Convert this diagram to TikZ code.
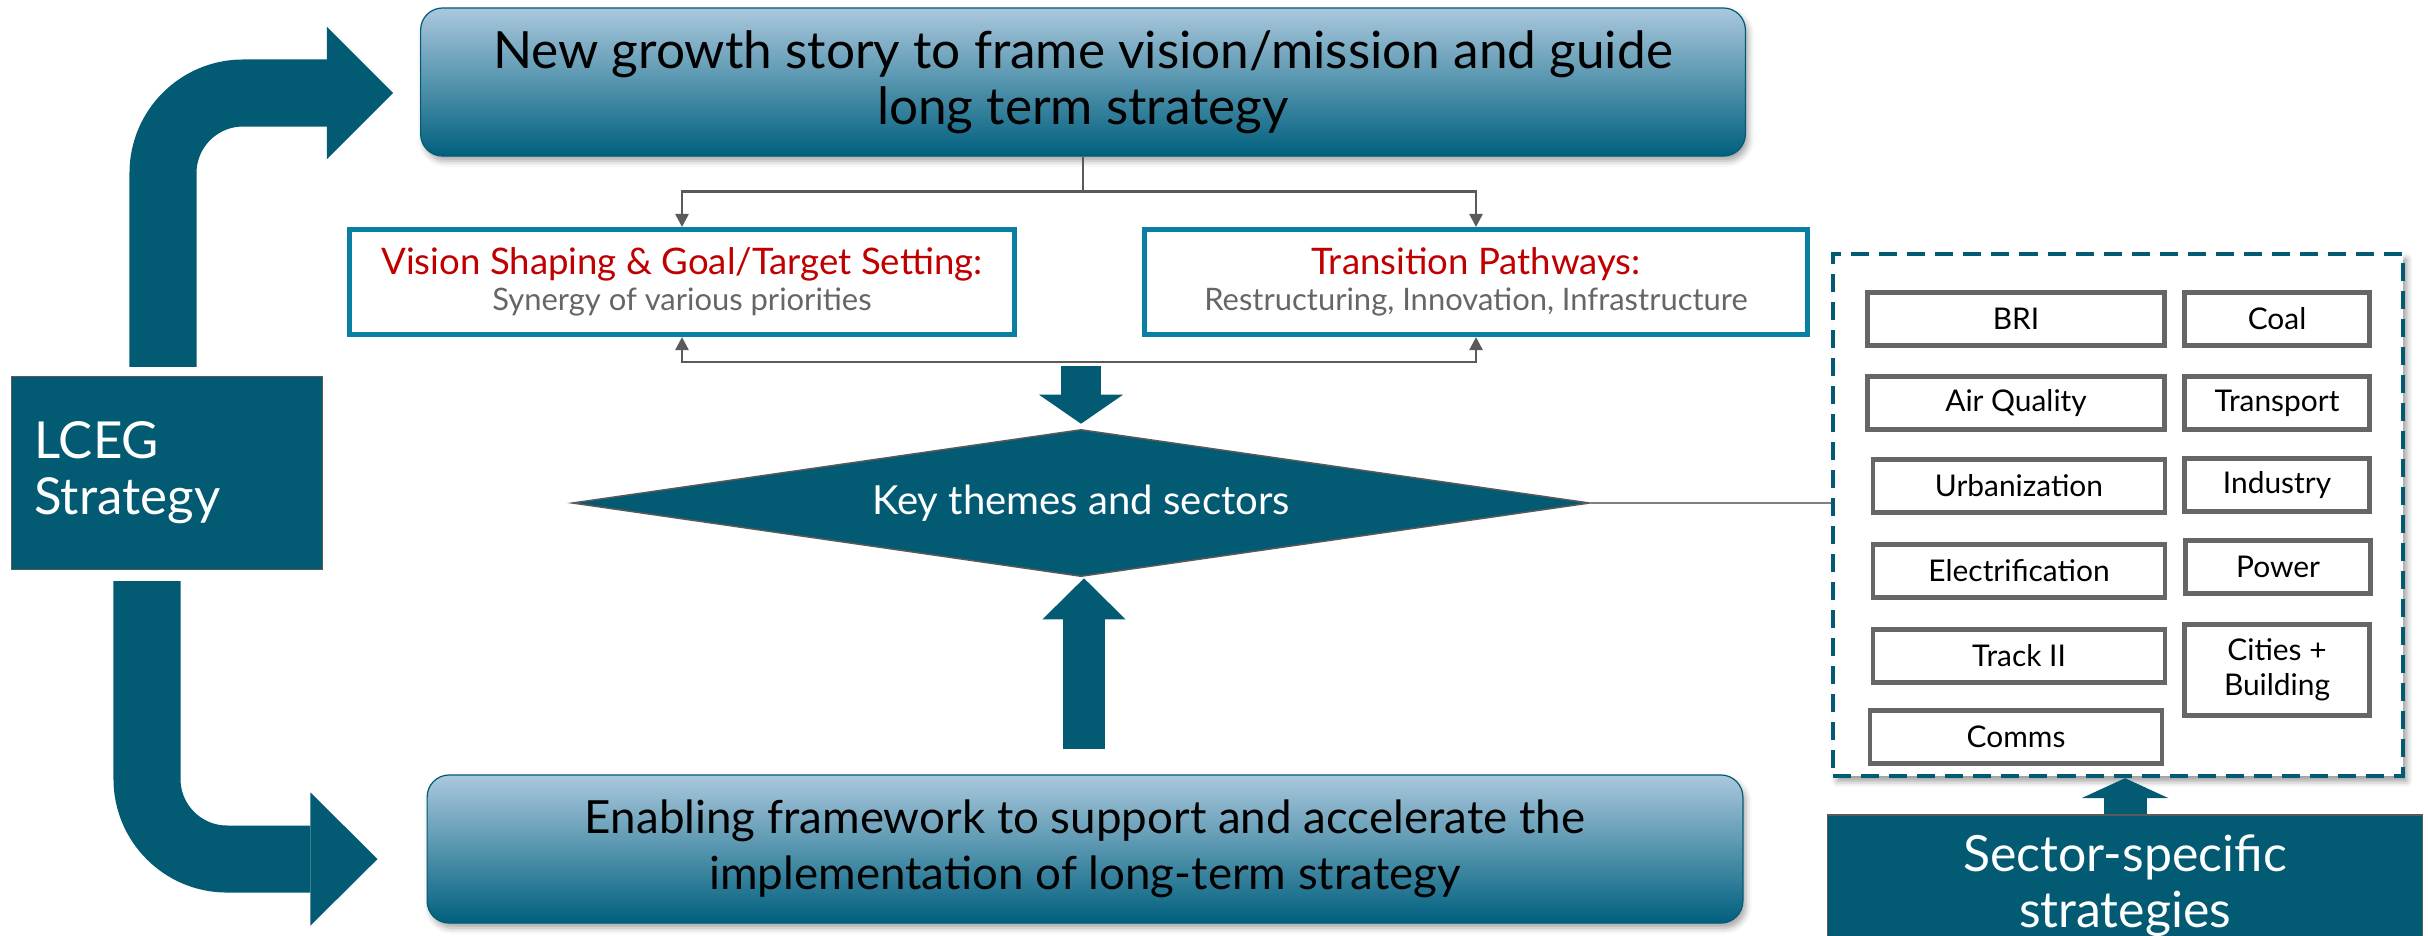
\documentclass[tikz,border=0pt]{standalone}
\usepackage{fontspec}
\setmainfont{Lato}
\usetikzlibrary{positioning, calc, arrows.meta, shapes.geometric, shadows.blur}

\definecolor{deepteal}{RGB}{3,90,115}
\definecolor{rimteal}{RGB}{9,127,163}
\definecolor{paleblue}{RGB}{170,200,221}
\definecolor{midblue}{RGB}{104,160,191}
\definecolor{darkblue}{RGB}{0,96,126}
\definecolor{titlered}{RGB}{192,0,0}
\definecolor{subgray}{RGB}{102,102,102}
\definecolor{wiregray}{RGB}{90,90,90}

\tikzset{
  banner/.style={draw=deepteal, line width=0.012cm, rounded corners=0.22cm,
    top color=paleblue, middle color=midblue, bottom color=darkblue,
    minimum height=1.48cm, align=center, text=black,
    blur shadow={shadow xshift=0.03cm, shadow yshift=-0.05cm, shadow blur radius=0.06cm, shadow opacity=35}},
  pathbox/.style={draw=rimteal, line width=0.05cm, fill=white, minimum height=1.05cm,
    align=center, font=\fontsize{8.8}{10.2}\selectfont},
  tealbox/.style={draw=wiregray, line width=0.012cm, fill=deepteal, text=white},
  itembox/.style={draw=subgray, line width=0.045cm, minimum height=0.53cm, align=center,
    font=\fontsize{8.5}{10}\selectfont},
  wire/.style={draw=wiregray, line width=0.025cm},
  fatarrow/.style n args={3}{draw=deepteal, line width=#1,
    -{Triangle[length=#2, width=#3, line width=0pt]}},
}
\newcommand{\redhead}[1]{{\fontsize{10.4}{10.2}\selectfont\textcolor{titlered}{#1}}}

\begin{document}
\begin{tikzpicture}[x=0.01cm, y=-0.01cm]
  \useasboundingbox (0,0) rectangle (2428,935);

  % strategy boxes
  \node[banner, minimum width=13.24cm, font=\fontsize{14.6}{16}\selectfont] (top) at (1083,82)
    {New growth story to frame vision/mission and guide\\long term strategy};
  \node[banner, minimum width=13.15cm, font=\fontsize{13}{16}\selectfont] (bot) at (1085,849)
    {Enabling framework to support and accelerate the\\implementation of long-term strategy};

  \node[pathbox, minimum width=6.64cm] (vision) at (682,282)
    {\redhead{Vision Shaping \& Goal/Target Setting:}\\
     \textcolor{subgray}{Synergy of various priorities}};
  \node[pathbox, minimum width=6.63cm] (trans) at (1476,282)
    {\redhead{Transition Pathways:}\\
     \textcolor{subgray}{Restructuring, Innovation, Infrastructure}};

  \node[shape=diamond, fill=deepteal, draw=wiregray, line width=0.015cm, aspect=6.9,
    minimum width=10.17cm, minimum height=1.47cm, inner sep=0pt, text=white,
    font=\fontsize{11.4}{12}\selectfont] (key) at (1081,503) {Key themes and sectors};

  \node[tealbox, minimum width=3.11cm, minimum height=1.93cm, inner xsep=0.23cm,
    text width=2.65cm, align=left, font=\fontsize{14.5}{16}\selectfont] (lceg) at (167,473)
    {LCEG\\Strategy};

  % sectors
  \node[draw=deepteal, line width=0.04cm, dash pattern=on 0.18cm off 0.1cm, fill=white,
    minimum width=5.69cm, minimum height=5.22cm,
    blur shadow={shadow xshift=0.04cm, shadow yshift=-0.05cm, shadow blur radius=0.06cm, shadow opacity=40}]
    (group) at (2118,515) {};

  \node[itembox, minimum width=2.97cm] (bri) at (2016,319) {BRI};
  \node[itembox, minimum width=2.97cm] (air) at (2016,403) {Air Quality};
  \node[itembox, minimum width=2.92cm] (urban) at (2019,486) {Urbanization};
  \node[itembox, minimum width=2.92cm] (elec) at (2019,571) {Electrification};
  \node[itembox, minimum width=2.92cm] (track) at (2019,656) {Track II};
  \node[itembox, minimum width=2.92cm] (comms) at (2016,737) {Comms};

  \node[itembox, minimum width=1.85cm] (coal) at (2277,319) {Coal};
  \node[itembox, minimum width=1.85cm] (transport) at (2277,403) {Transport};
  \node[itembox, minimum width=1.85cm] (industry) at (2277,485) {Industry};
  \node[itembox, minimum width=1.85cm] (power) at (2278,567) {Power};
  \node[itembox, minimum width=1.85cm, minimum height=0.91cm] (cities) at (2277,670) {Cities +\\Building};

  \node[tealbox, minimum width=5.94cm, minimum height=1.42cm, align=center,
    font=\fontsize{14.2}{16}\selectfont] (sector) at (2125,886) {Sector-specific\\strategies};

  % thin links
  \coordinate (fork) at ($(top.south)+(0,35)$);
  \draw[wire] (top.south) -- (fork);
  \draw[wire, -{Triangle[length=0.13cm, width=0.13cm]}] (fork) -| (vision.north);
  \draw[wire, -{Triangle[length=0.13cm, width=0.13cm]}] (fork) -| (trans.north);
  \draw[wire, {Triangle[length=0.13cm, width=0.13cm]}-{Triangle[length=0.13cm, width=0.13cm]}]
    (vision.south) -- ++(0,25) -| (trans.south);
  \draw[draw=gray, line width=0.02cm] (key.east) -- (key.east -| group.west);

  % fat arrows
  \draw[fatarrow={0.4cm}{0.29cm}{0.84cm}] ($(key.north)+(0,-63)$) -- ($(key.north)+(0,-5)$);
  \draw[fatarrow={0.42cm}{0.41cm}{0.83cm}] ($(key.south)+(3,172)$) -- ($(key.south)+(3,1)$);
  \draw[fatarrow={0.43cm}{0.2cm}{0.87cm}] (sector.north) -- (sector.north |- group.south);

  \draw[fatarrow={0.67cm}{0.66cm}{1.32cm}, rounded corners=0.8cm]
    ($(lceg.north)+(-4,-9)$) |- ($(top.west)+(-27,11)$);
  \draw[fatarrow={0.67cm}{0.67cm}{1.33cm}, rounded corners=0.8cm]
    ($(lceg.south)+(-20,11)$) |- ($(bot.west)+(-49,10)$);
\end{tikzpicture}
\end{document}
